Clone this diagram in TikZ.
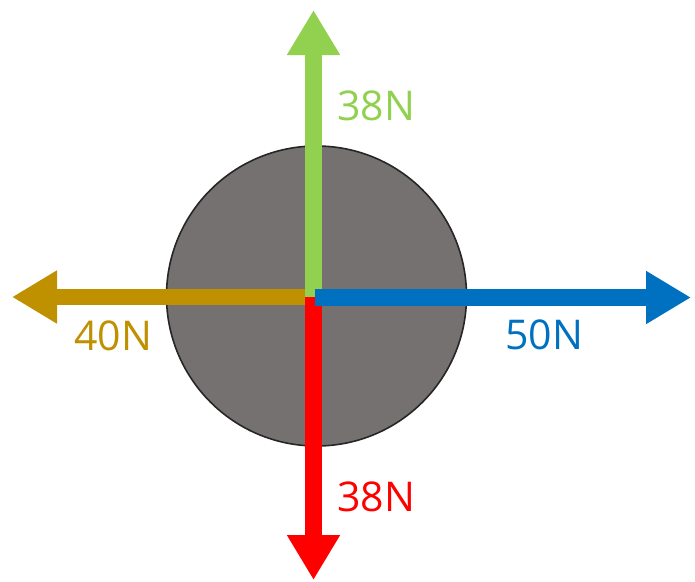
\documentclass[tikz,border=0pt]{standalone}
\usepackage{fontspec}
\setmainfont{Open Sans}
\usetikzlibrary{arrows.meta}
\definecolor{fgreen}{HTML}{92D050}
\definecolor{fred}{HTML}{FF0000}
\definecolor{fgold}{HTML}{BF9000}
\definecolor{fblue}{HTML}{0070C0}
\definecolor{ballgray}{HTML}{767171}
\tikzset{
  force/.style={line width=16.5pt, -{Triangle[length=45pt,width=50pt]}},
  flabel/.style={inner sep=0pt, font=\fontsize{41}{41}\selectfont},
  ball/.style={circle, draw=black!85, line width=1.6pt, fill=ballgray, minimum size=300pt, inner sep=0pt}
}
\begin{document}
\begin{tikzpicture}[x=1pt,y=-1pt]
\useasboundingbox (0,0) rectangle (695,581);
\node[ball] (ball) at (316.5,296) {};
\coordinate (c) at (313.5,297);
\coordinate (cb) at (315,297.5);
\coordinate (tup) at (313.5,10);
\coordinate (tdown) at (313.5,580);
\coordinate (tleft) at (12,297);
\coordinate (tright) at (691,297.5);
\draw[force, fgold] (c) -- (tleft);
\draw[force, fgreen] (c) -- (tup);
\draw[force, fred] (c) -- (tdown);
\draw[force, fblue] (cb) -- (tright);
\node[flabel, text=fgreen] (lup) at (376,106) {38N};
\node[flabel, text=fred] (ldown) at (376,497) {38N};
\node[flabel, text=fgold] (lleft) at (113,336) {40N};
\node[flabel, text=fblue] (lright) at (544,335) {50N};
\end{tikzpicture}
\end{document}
